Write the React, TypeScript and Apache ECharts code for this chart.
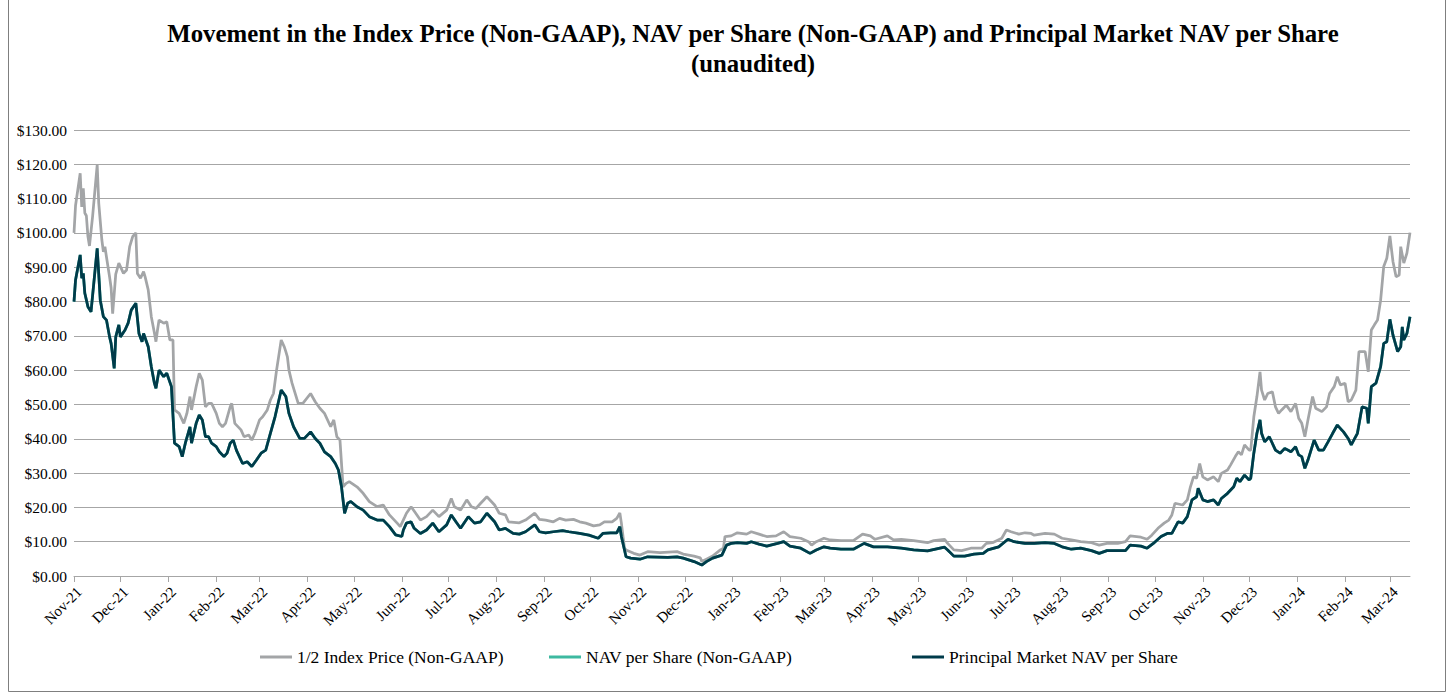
import { useEffect, useRef } from 'react';
import * as echarts from 'echarts';

const FONT = 'Liberation Serif';

const TITLE = 'Movement in the Index Price (Non-GAAP), NAV per Share (Non-GAAP) and Principal Market NAV per Share\n(unaudited)';
const SERIES_NAMES = ['1/2 Index Price (Non-GAAP)', 'NAV per Share (Non-GAAP)', 'Principal Market NAV per Share'];
const MONTHS = ['Jan', 'Feb', 'Mar', 'Apr', 'May', 'Jun', 'Jul', 'Aug', 'Sep', 'Oct', 'Nov', 'Dec'];
const AXIS_MIN = '2021-11-01';
const AXIS_MAX = '2024-03-14';

// 1/2 Index Price (Non-GAAP)
const indexDates = [
  '2021-11-01','2021-11-02','2021-11-05','2021-11-06','2021-11-07','2021-11-08','2021-11-09','2021-11-10','2021-11-11','2021-11-13',
  '2021-11-16','2021-11-17','2021-11-19','2021-11-20','2021-11-21','2021-11-22','2021-11-24','2021-11-25','2021-11-26','2021-11-28',
  '2021-11-30','2021-12-03','2021-12-05','2021-12-07','2021-12-09','2021-12-11','2021-12-12','2021-12-14','2021-12-16','2021-12-17',
  '2021-12-19','2021-12-21','2021-12-23','2021-12-24','2021-12-25','2021-12-26','2021-12-29','2021-12-31','2022-01-02','2022-01-04',
  '2022-01-05','2022-01-08','2022-01-11','2022-01-13','2022-01-15','2022-01-16','2022-01-19','2022-01-21','2022-01-23','2022-01-25',
  '2022-01-27','2022-01-29','2022-02-01','2022-02-03','2022-02-05','2022-02-07','2022-02-10','2022-02-11','2022-02-13','2022-02-17',
  '2022-02-19','2022-02-22','2022-02-24','2022-02-26','2022-03-01','2022-03-03','2022-03-06','2022-03-08','2022-03-10','2022-03-12',
  '2022-03-15','2022-03-17','2022-03-18','2022-03-19','2022-03-20','2022-03-22','2022-03-26','2022-03-29','2022-04-03','2022-04-06',
  '2022-04-09','2022-04-12','2022-04-16','2022-04-18','2022-04-20','2022-04-22','2022-04-24','2022-04-26','2022-04-28','2022-05-03',
  '2022-05-07','2022-05-11','2022-05-16','2022-05-20','2022-05-24','2022-05-29','2022-05-31','2022-06-03','2022-06-04','2022-06-07',
  '2022-06-10','2022-06-13','2022-06-17','2022-06-21','2022-06-25','2022-06-30','2022-07-03','2022-07-05','2022-07-09','2022-07-13',
  '2022-07-16','2022-07-19','2022-07-22','2022-07-26','2022-07-31','2022-08-03','2022-08-07','2022-08-09','2022-08-16','2022-08-20',
  '2022-08-26','2022-08-29','2022-09-02','2022-09-07','2022-09-11','2022-09-15','2022-09-20','2022-09-24','2022-09-28','2022-10-03',
  '2022-10-07','2022-10-10','2022-10-15','2022-10-18','2022-10-20','2022-10-21','2022-10-23','2022-10-24','2022-10-29','2022-11-02',
  '2022-11-07','2022-11-15','2022-11-26','2022-11-30','2022-12-07','2022-12-11','2022-12-12','2022-12-15','2022-12-19','2022-12-24',
  '2022-12-26','2022-12-27','2022-12-31','2023-01-04','2023-01-10','2023-01-13','2023-01-18','2023-01-23','2023-01-29','2023-02-03',
  '2023-02-07','2023-02-14','2023-02-19','2023-02-21','2023-02-24','2023-03-01','2023-03-05','2023-03-12','2023-03-20','2023-03-26',
  '2023-03-31','2023-04-03','2023-04-11','2023-04-15','2023-04-20','2023-04-28','2023-05-07','2023-05-11','2023-05-18','2023-05-20',
  '2023-05-24','2023-05-29','2023-06-04','2023-06-11','2023-06-14','2023-06-18','2023-06-24','2023-06-27','2023-06-30','2023-07-05',
  '2023-07-09','2023-07-13','2023-07-15','2023-07-22','2023-07-28','2023-08-02','2023-08-08','2023-08-14','2023-08-21','2023-08-26',
  '2023-08-31','2023-09-07','2023-09-12','2023-09-15','2023-09-22','2023-09-26','2023-09-29','2023-10-03','2023-10-07','2023-10-10',
  '2023-10-12','2023-10-14','2023-10-19','2023-10-22','2023-10-24','2023-10-26','2023-10-28','2023-10-30','2023-11-01','2023-11-04',
  '2023-11-08','2023-11-11','2023-11-13','2023-11-17','2023-11-19','2023-11-22','2023-11-24','2023-11-26','2023-11-28','2023-12-01',
  '2023-12-02','2023-12-04','2023-12-06','2023-12-08','2023-12-09','2023-12-11','2023-12-13','2023-12-16','2023-12-18','2023-12-20',
  '2023-12-22','2023-12-25','2023-12-28','2023-12-31','2024-01-02','2024-01-04','2024-01-06','2024-01-08','2024-01-11','2024-01-13',
  '2024-01-17','2024-01-20','2024-01-22','2024-01-25','2024-01-27','2024-01-29','2024-02-01','2024-02-03','2024-02-05','2024-02-08',
  '2024-02-10','2024-02-14','2024-02-16','2024-02-18','2024-02-20','2024-02-22','2024-02-24','2024-02-26','2024-02-28','2024-03-01',
  '2024-03-03','2024-03-05','2024-03-07','2024-03-08','2024-03-10','2024-03-12','2024-03-14',
];
const indexValues = [
  100, 108, 117.4, 107.6, 113, 105.8, 105, 99, 96.2, 104.7,
  119.8, 108.7, 98, 94.5, 96, 93, 87.2, 84, 76.5, 88,
  91.2, 88.2, 89.2, 96, 99, 100, 88.2, 86.8, 88.7, 87.2,
  83.4, 75.6, 70.8, 68.3, 71.7, 74.6, 73.7, 74.1, 68.8, 68.8,
  48.4, 47.4, 44.5, 47.4, 52.3, 48.4, 55.2, 59.1, 57.1, 49.3,
  50.3, 50.3, 47.4, 44.5, 43.5, 44.5, 49.3, 50.3, 44.5, 42.6,
  40.6, 41.1, 39.6, 41.6, 45.5, 46.4, 48.4, 51.3, 53.2, 60,
  68.8, 66.8, 65.4, 63.9, 60, 56.2, 50.3, 50.3, 53.2, 50.8,
  48.9, 47.4, 43.5, 45.5, 40.6, 39.6, 26, 27, 27.5, 26,
  24.1, 21.7, 20.2, 20.7, 17.8, 15.4, 14.4, 17.3, 18.3, 20.2,
  18.3, 16.3, 17.3, 19.2, 17.3, 19.2, 22.6, 20.2, 19.2, 22.2,
  20.2, 19.7, 21.2, 23.1, 20.7, 18.3, 17.8, 15.8, 15.5, 16.3,
  18.3, 16.5, 16.3, 15.8, 16.8, 16.3, 16.5, 15.8, 15.4, 14.6,
  14.9, 15.8, 15.8, 16.8, 18.4, 15.4, 8.1, 7.6, 6.6, 6.1,
  7.1, 6.8, 7.1, 6.4, 5.8, 5.3, 4.2, 4.9, 5.8, 7.6,
  8.1, 11.5, 11.7, 12.6, 12.2, 12.9, 12.2, 11.5, 11.7, 12.9,
  11.5, 11, 10, 9, 10, 11, 10.5, 10.3, 10.3, 12.2,
  11.7, 10.7, 11.7, 10.5, 10.7, 10.3, 9.7, 10.3, 10.7, 9.5,
  7.6, 7.4, 8.1, 8.1, 9.5, 9.7, 11, 13.4, 12.9, 12.2,
  12.6, 12.4, 11.9, 12.4, 12.2, 11, 10.5, 10, 9.7, 9,
  9.5, 9.5, 10, 11.7, 11.3, 10.7, 11.9, 13.9, 15.4, 16.3,
  17.8, 21.2, 20.7, 22.2, 26, 28.9, 28.5, 32.8, 28.9, 28,
  28.9, 27.5, 29.9, 30.9, 32.4, 34.8, 36.2, 35.3, 38.2, 36.7,
  36.7, 46.4, 52.3, 59.5, 54.2, 51.3, 53.2, 53.7, 49.3, 47.4,
  48.4, 49.8, 47.9, 50.3, 46, 44.5, 40.6, 45.5, 52.3, 48.9,
  47.9, 49.3, 53.2, 55.2, 58.1, 55.7, 56.2, 50.8, 51.3, 54.2,
  65.4, 65.4, 59.5, 71.7, 73.2, 74.6, 80.4, 90.2, 92.6, 99.1,
  91.6, 87.2, 87.7, 96, 91.2, 94.1, 100.1,
];

// Principal Market NAV per Share (NAV per Share (Non-GAAP) tracks it and sits underneath)
const navDates = [
  '2021-11-01','2021-11-02','2021-11-05','2021-11-06','2021-11-07','2021-11-08','2021-11-10','2021-11-12','2021-11-16','2021-11-18',
  '2021-11-20','2021-11-22','2021-11-24','2021-11-25','2021-11-27','2021-11-28','2021-11-30','2021-12-01','2021-12-04','2021-12-06',
  '2021-12-08','2021-12-11','2021-12-13','2021-12-15','2021-12-16','2021-12-19','2021-12-21','2021-12-23','2021-12-24','2021-12-26',
  '2021-12-29','2021-12-31','2022-01-03','2022-01-05','2022-01-08','2022-01-10','2022-01-12','2022-01-15','2022-01-16','2022-01-19',
  '2022-01-21','2022-01-23','2022-01-25','2022-01-27','2022-01-29','2022-02-01','2022-02-03','2022-02-06','2022-02-08','2022-02-10',
  '2022-02-12','2022-02-14','2022-02-18','2022-02-21','2022-02-24','2022-02-27','2022-03-02','2022-03-05','2022-03-08','2022-03-11',
  '2022-03-15','2022-03-18','2022-03-20','2022-03-23','2022-03-27','2022-03-30','2022-04-03','2022-04-06','2022-04-09','2022-04-12',
  '2022-04-16','2022-04-19','2022-04-21','2022-04-23','2022-04-25','2022-04-27','2022-04-29','2022-05-03','2022-05-07','2022-05-11',
  '2022-05-16','2022-05-20','2022-05-24','2022-05-28','2022-06-01','2022-06-02','2022-06-04','2022-06-07','2022-06-09','2022-06-13',
  '2022-06-17','2022-06-21','2022-06-25','2022-06-30','2022-07-03','2022-07-06','2022-07-09','2022-07-14','2022-07-18','2022-07-22',
  '2022-07-26','2022-07-31','2022-08-03','2022-08-07','2022-08-12','2022-08-16','2022-08-20','2022-08-26','2022-08-29','2022-09-02',
  '2022-09-07','2022-09-13','2022-09-17','2022-09-24','2022-09-30','2022-10-06','2022-10-09','2022-10-14','2022-10-18','2022-10-20',
  '2022-10-21','2022-10-24','2022-10-27','2022-11-02','2022-11-07','2022-11-20','2022-11-26','2022-11-30','2022-12-07','2022-12-12',
  '2022-12-15','2022-12-19','2022-12-25','2022-12-28','2022-12-31','2023-01-04','2023-01-10','2023-01-13','2023-01-18','2023-01-23',
  '2023-01-30','2023-02-03','2023-02-07','2023-02-14','2023-02-20','2023-02-24','2023-03-01','2023-03-05','2023-03-12','2023-03-20',
  '2023-03-27','2023-04-02','2023-04-11','2023-04-20','2023-04-28','2023-05-07','2023-05-18','2023-05-20','2023-05-24','2023-05-31',
  '2023-06-06','2023-06-12','2023-06-15','2023-06-22','2023-06-28','2023-07-02','2023-07-09','2023-07-15','2023-07-22','2023-07-28',
  '2023-08-02','2023-08-08','2023-08-14','2023-08-21','2023-08-26','2023-08-31','2023-09-07','2023-09-12','2023-09-15','2023-09-22',
  '2023-09-26','2023-09-30','2023-10-05','2023-10-09','2023-10-12','2023-10-16','2023-10-19','2023-10-22','2023-10-25','2023-10-28',
  '2023-10-29','2023-11-01','2023-11-04','2023-11-08','2023-11-11','2023-11-13','2023-11-17','2023-11-21','2023-11-23','2023-11-25',
  '2023-11-28','2023-12-01','2023-12-02','2023-12-04','2023-12-06','2023-12-08','2023-12-09','2023-12-11','2023-12-14','2023-12-18',
  '2023-12-21','2023-12-24','2023-12-28','2023-12-31','2024-01-02','2024-01-04','2024-01-06','2024-01-08','2024-01-12','2024-01-15',
  '2024-01-18','2024-01-21','2024-01-24','2024-01-27','2024-01-31','2024-02-03','2024-02-05','2024-02-09','2024-02-12','2024-02-15',
  '2024-02-16','2024-02-18','2024-02-21','2024-02-24','2024-02-26','2024-02-28','2024-03-01','2024-03-03','2024-03-06','2024-03-08',
  '2024-03-09','2024-03-10','2024-03-12','2024-03-14',
];
const principalNavValues = [
  80, 86.3, 93.6, 86.8, 88.2, 82.4, 78.5, 77, 95.5, 80.4,
  75.6, 74.6, 69.7, 67.8, 60.5, 69.7, 73.2, 69.7, 71.7, 73.7,
  77.5, 79.5, 70.7, 68.3, 70.7, 66.8, 61, 56.2, 54.7, 60,
  58.1, 59.1, 55.2, 38.7, 37.7, 34.8, 38.7, 43.5, 38.7, 44.5,
  46.9, 45.5, 40.6, 40.6, 38.7, 37.7, 36.2, 34.8, 35.8, 38.7,
  39.6, 36.7, 32.8, 33.3, 31.9, 33.8, 35.8, 36.7, 41.6, 46.4,
  54.2, 52.3, 47.4, 43.5, 40.1, 40.1, 42, 40.1, 38.7, 36.2,
  34.8, 32.8, 30.9, 26, 18.3, 21.2, 21.7, 20.2, 19.2, 17.3,
  16.3, 16.3, 14.4, 12, 11.5, 13.4, 15.4, 15.8, 13.9, 12.4,
  13.4, 15.4, 12.9, 14.9, 17.8, 15.8, 13.9, 17.3, 15.4, 15.8,
  18.3, 15.8, 13.4, 13.9, 12.4, 12.2, 12.9, 14.9, 12.9, 12.6,
  12.9, 13.2, 12.9, 12.4, 11.9, 11, 12.4, 12.6, 12.6, 14.4,
  11.5, 5.6, 5.2, 4.9, 5.6, 5.4, 5.6, 5.2, 4.2, 3.2,
  4.2, 5.2, 6.1, 9, 9.5, 9.7, 9.5, 10, 9.3, 8.7,
  9.5, 10, 8.7, 8.1, 6.6, 7.6, 8.5, 8.1, 7.8, 7.8,
  9.5, 8.5, 8.5, 8.1, 7.6, 7.3, 8.4, 7.6, 5.8, 5.8,
  6.4, 6.6, 7.6, 8.5, 10.7, 10, 9.5, 9.5, 9.7, 9.5,
  8.5, 7.8, 8.1, 7.4, 6.6, 7.4, 7.4, 7.4, 9, 8.7,
  8.1, 9.5, 11.5, 12.4, 12.4, 15.8, 15.4, 17.3, 22.2, 23.1,
  25.6, 22.2, 21.7, 22.2, 20.7, 22.6, 24.1, 26, 28.5, 27.5,
  29.4, 28, 28.5, 35.8, 41.6, 45.5, 41.6, 39.1, 40.6, 36.7,
  35.8, 37.2, 36.2, 37.7, 35.3, 34.8, 31.4, 33.8, 39.6, 36.7,
  36.7, 39.1, 41.6, 44, 42, 40.1, 38.2, 41.6, 49.3, 48.9,
  44.5, 55.2, 56.2, 61, 67.8, 68.3, 74.8, 70.2, 65.4, 66.8,
  72.6, 68.8, 70.7, 75.6,
];
const navPerShareValues = principalNavValues;

const Y_MIN = 0;
const Y_MAX = 130;
const Y_INTERVAL = 10;

const COLORS = ['#A3A5A7', '#3DB9A0', '#003B4A'];

function pair(dates: string[], values: number[]) {
  return dates.map((d, i) => [d, values[i]]);
}

export default function App() {
  const ref = useRef<HTMLDivElement>(null);
  useEffect(() => {
    const chart = echarts.init(ref.current!, null, { renderer: 'svg' });
    const legendBase = {
      orient: 'horizontal',
      top: 643,
      itemWidth: 32,
      itemHeight: 3,
      itemGap: 0,
      selectedMode: false,
      icon: 'rect',
      textStyle: { fontFamily: FONT, fontSize: 17.5, color: '#000' },
    };
    chart.setOption({
      animation: false,
      backgroundColor: '#fff',
      color: COLORS,
      textStyle: { fontFamily: FONT },
      graphic: [
        {
          type: 'rect',
          silent: true,
          shape: { x: 8.5, y: -2, width: 1437, height: 693.5 },
          style: { fill: 'none', stroke: '#7f7f7f', lineWidth: 1 },
        },
        {
          type: 'text',
          silent: true,
          x: 753,
          y: 18.5,
          style: {
            text: TITLE,
            textAlign: 'center',
            textVerticalAlign: 'top',
            font: `bold 24.8px ${FONT}`,
            lineHeight: 30,
            fill: '#000',
          },
        },
      ],
      legend: [
        { ...legendBase, left: 255, data: [SERIES_NAMES[0]] },
        { ...legendBase, left: 544, data: [SERIES_NAMES[1]] },
        { ...legendBase, left: 907, data: [SERIES_NAMES[2]] },
      ],
      grid: { left: 74, right: 38, top: 130, bottom: 117, containLabel: false },
      xAxis: {
        type: 'time',
        min: AXIS_MIN,
        max: AXIS_MAX,
        minInterval: 28 * 86400000,
        maxInterval: 31 * 86400000,
        splitNumber: 28,
        axisLine: { show: true, lineStyle: { color: '#A6A6A6', width: 1 } },
        axisTick: { show: true, length: 6, lineStyle: { color: '#A6A6A6' } },
        splitLine: { show: false },
        axisLabel: {
          rotate: 45,
          fontFamily: FONT,
          fontSize: 15,
          color: '#000',
          margin: 8,
          verticalAlign: 'top',
          hideOverlap: false,
          formatter: (v: number) => {
            const d = new Date(v);
            return `${MONTHS[d.getMonth()]}-${String(d.getFullYear()).slice(2)}`;
          },
        },
      },
      yAxis: {
        type: 'value',
        min: Y_MIN,
        max: Y_MAX,
        interval: Y_INTERVAL,
        axisLine: { show: false },
        axisTick: { show: false },
        splitLine: { show: true, lineStyle: { color: '#A6A6A6', width: 1 } },
        axisLabel: {
          fontFamily: FONT,
          fontSize: 15.5,
          color: '#000',
          margin: 7,
          formatter: (v: number) => `$${v.toFixed(2)}`,
        },
      },
      series: [
        {
          name: SERIES_NAMES[0],
          type: 'line',
          data: pair(indexDates, indexValues),
          symbol: 'none',
          lineStyle: { width: 2.75, color: COLORS[0] },
          itemStyle: { color: COLORS[0] },
        },
        {
          name: SERIES_NAMES[1],
          type: 'line',
          data: pair(navDates, navPerShareValues),
          symbol: 'none',
          lineStyle: { width: 2.75, color: COLORS[1] },
          itemStyle: { color: COLORS[1] },
        },
        {
          name: SERIES_NAMES[2],
          type: 'line',
          data: pair(navDates, principalNavValues),
          symbol: 'none',
          lineStyle: { width: 2.75, color: COLORS[2] },
          itemStyle: { color: COLORS[2] },
        },
      ],
    });
    return () => chart.dispose();
  }, []);
  return (
    <div
      ref={ref}
      style={{ position: 'absolute', left: 0, top: 0, width: 1448, height: 693, background: '#fff' }}
    />
  );
}
